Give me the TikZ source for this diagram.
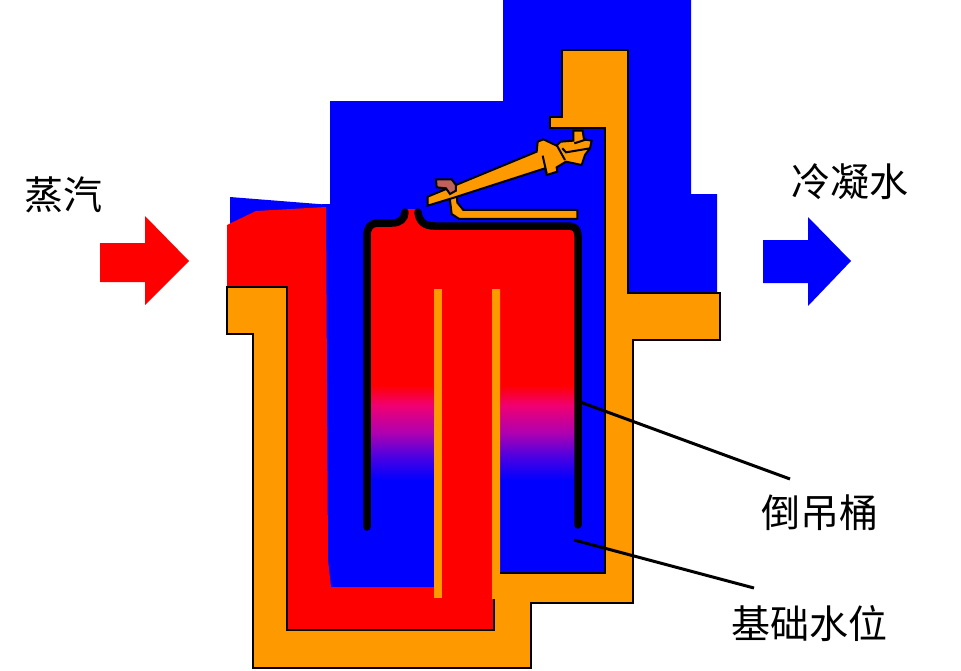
\documentclass[tikz,border=0pt]{standalone}
\usepackage{fontspec}
\newfontfamily\cjk{Noto Sans CJK SC}
\definecolor{org}{HTML}{FF9900}
\definecolor{brn}{HTML}{C0605A}
\definecolor{gA}{RGB}{240,0,112}
\definecolor{gB}{RGB}{176,0,176}
\definecolor{gC}{RGB}{80,0,224}
\pgfdeclareverticalshading{bandshade}{100bp}{color(0bp)=(blue); color(25bp)=(blue); color(38bp)=(gC); color(50bp)=(gB); color(64.5bp)=(gA); color(75bp)=(red); color(100bp)=(red)}
\tikzset{
  lab/.style={font=\cjk\fontsize{39}{44}\selectfont,inner sep=0pt,text=black},
  leader/.style={line width=3pt,draw=black},
  grad/.style={shading=bandshade},
  part/.style={fill=org,draw=black,line width=2pt,line join=miter},
  edge/.style={draw=black,line width=1.8pt},
  bucket/.style={draw=black,line width=7.5pt,line cap=round,line join=round}
}
\begin{document}
\begin{tikzpicture}[x=1pt,y=-1pt]
\useasboundingbox (0,0) rectangle (961,670);
% blue water
\fill[blue] (330,101)--(503,101)--(503,0)--(691,0)--(691,194)--(717,194)--(717,300)--(610,300)--(610,580)--(495,580)--(495,587)--(331,587)--(322,560)--(322,204)--(330,204)--cycle;
\fill[blue] (230,197)--(331,205)--(331,215)--(230,232)--cycle;
% red steam
\fill[red] (227,225)--(256,211)--(326,207)--(328,560)--(331,587)--(440,587)--(440,280)--(495,280)--(495,630)--(280,630)--(280,292)--(227,292)--cycle;
% inside of the bucket
\fill[red] (367,388)--(367,236) .. controls (367,227) and (371,223) .. (378,223)--(392,223) .. controls (400,223) and (405,219) .. (406,209)--(417,209) .. controls (418,220) and (423,226) .. (434,226)--(568,226) .. controls (575,226) and (578,229) .. (578,236)--(578,388)--cycle;
\shade[grad] (367,385) rectangle (434,480);
\shade[grad] (500,385) rectangle (578,480);
\fill[red] (442,380) rectangle (492,590);
% body
\fill[org] (227,287)--(287,287)--(287,630)--(494,630)--(494,599)--(492,599)--(492,289)--(500,289)--(500,573)--(605,573)--(605,128)--(550,128)--(550,117)--(562,117)--(562,50)--(628,50)--(628,293)--(720,293)--(720,340)--(633,340)--(633,603)--(531,603)--(531,668)--(253,668)--(253,334)--(227,334)--cycle;
\fill[org] (434,289) rectangle (442,598);
\draw[edge] (494,599)--(494,630)--(287,630)--(287,287)--(227,287)--(227,334)--(253,334)--(253,668)--(531,668)--(531,603)--(633,603)--(633,340)--(720,340)--(720,293)--(628,293)--(628,50)--(562,50)--(562,117)--(550,117)--(550,128)--(605,128)--(605,573)--(500,573);
% bucket wall
\draw[bucket] (367,527)--(367,236) .. controls (367,227) and (371,223) .. (378,223)--(392,223) .. controls (400,223) and (405,219) .. (405,212);
\draw[bucket] (418,212) .. controls (419,221) and (424,226) .. (434,226)--(568,226) .. controls (575,226) and (578,229) .. (578,236)--(578,525);
% lever, drawn in 3x crop units
\begin{scope}[shift={(400,90)},x=0.3333pt,y=-0.3333pt]
\draw[part] (148,315)--(170,312)--(172,338)--(190,360)--(532,360)--(532,387)--(178,387)--(155,372)--cycle;
\draw[part] (83,320)--(410,185)--(413,155)--(430,148)--(445,155)--(470,167)--(482,155)--(520,152)--(520,122)--(548,122)--(552,148)--(575,152)--(570,175)--(555,195)--(545,225)--(498,215)--(470,232)--(472,245)--(440,255)--(435,235)--(165,322)--(83,347)--cycle;
\draw[line width=2pt] (428,197)--(440,250) (470,165)--(495,210) (523,160)--(560,148) (487,175)--(498,187)--(570,175);
\draw[fill=brn,line width=2pt] (108,268)--(155,268)--(168,285)--(168,302)--(150,312)--(138,295)--(110,292)--cycle;
\end{scope}
% arrows
\fill[red] (100,243)--(145,243)--(145,216)--(189,261)--(145,305)--(145,282)--(100,282)--cycle;
\fill[blue] (763,240)--(808,240)--(808,217)--(851,261)--(808,306)--(808,283)--(763,283)--cycle;
% labels
\node[lab] (steam) at (63,195) {蒸汽};
\node[lab] (water) at (850,182) {冷凝水};
\node[lab] (bkt) at (820,513) {倒吊桶};
\node[lab] (lvl) at (809,624) {基础水位};
\coordinate (bktp) at (580,402);
\coordinate (lvlp) at (574,540);
\coordinate (bkte) at (790,479);
\coordinate (lvle) at (754,588);
\draw[leader] (bktp)--(bkte);
\draw[leader] (lvlp)--(lvle);
\end{tikzpicture}
\end{document}
